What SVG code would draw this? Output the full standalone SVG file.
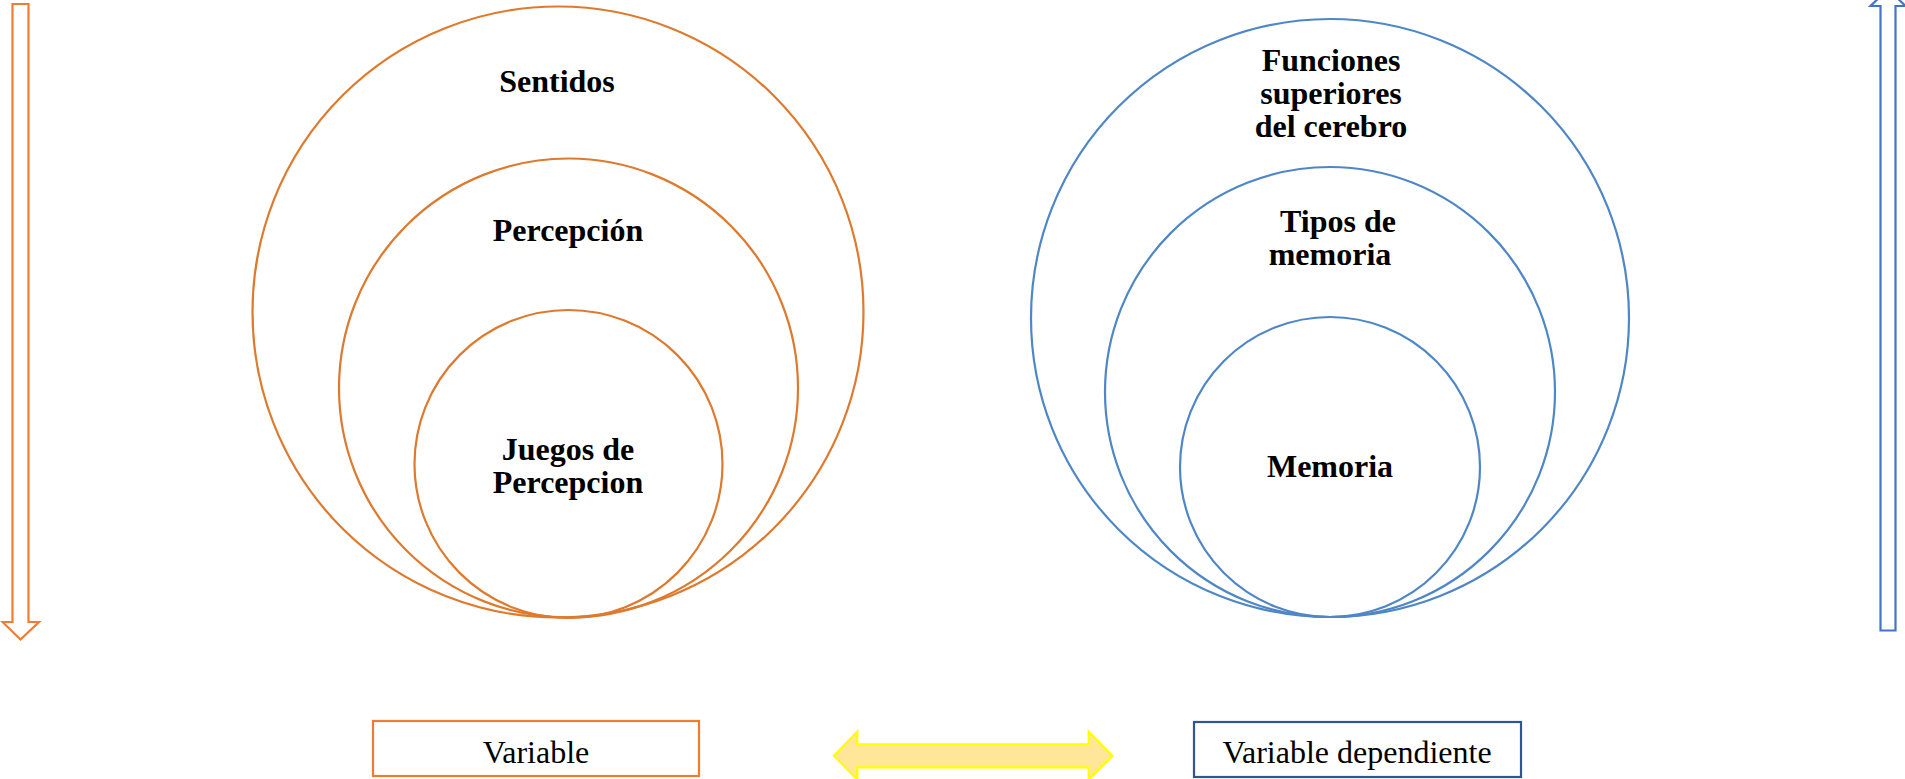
<svg xmlns="http://www.w3.org/2000/svg" width="1905" height="779" viewBox="0 0 1905 779">
  <style>
    .oc { fill: none; stroke: #DE7A2E; stroke-width: 2.2; }
    .bc { fill: none; stroke: #4F87C6; stroke-width: 2.2; }
    .lbl { font-family: "Liberation Serif", "Times New Roman", serif; font-weight: bold; font-size: 32px; fill: #000; text-anchor: middle; }
    .box-t { font-family: "Liberation Serif", "Times New Roman", serif; font-size: 32px; fill: #000; text-anchor: middle; }
  </style>
  <rect width="1905" height="779" fill="#fff"/>
  <g id="connectors">
    <path id="arrow-left" d="M12.5,4 H28.5 V622 H39 L20.5,639.5 L2.5,622 H12.5 Z" fill="#fff" stroke="#ED7D31" stroke-width="2.2"/>
    <path id="arrow-right" d="M1880.5,630.5 H1895.5 V6 H1905.5 L1888,-11 L1870.5,6 H1880.5 Z" fill="#fff" stroke="#4472C4" stroke-width="2.2"/>
    <path id="arrow-both" d="M834,755.7 L857.3,731.7 V744.3 H1088.7 V731.7 L1112.3,755.7 L1088.7,779.7 V767.3 H857.3 V779.7 Z" fill="#FFE699" stroke="#FFFF00" stroke-width="2.2"/>
  </g>
  <g id="node-sentidos">
    <circle class="oc" cx="558" cy="312" r="305.5"/>
    <text class="lbl" x="557" y="92">Sentidos</text>
  </g>
  <g id="node-percepcion">
    <circle class="oc" cx="568.5" cy="388" r="229.5"/>
    <text class="lbl" x="568" y="241">Percepción</text>
  </g>
  <g id="node-juegos">
    <circle class="oc" cx="568.5" cy="464" r="154"/>
    <text class="lbl" x="568" y="460">Juegos de</text>
    <text class="lbl" x="568" y="493">Percepcion</text>
  </g>
  <g id="node-funciones">
    <circle class="bc" cx="1330" cy="318" r="299"/>
    <text class="lbl" x="1331" y="71">Funciones</text>
    <text class="lbl" x="1331" y="104">superiores</text>
    <text class="lbl" x="1331" y="137">del cerebro</text>
  </g>
  <g id="node-tipos">
    <circle class="bc" cx="1330" cy="392" r="225"/>
    <text class="lbl" x="1338" y="232">Tipos de</text>
    <text class="lbl" x="1330" y="265">memoria</text>
  </g>
  <g id="node-memoria">
    <circle class="bc" cx="1330" cy="467" r="150"/>
    <text class="lbl" x="1330" y="477">Memoria</text>
  </g>
  <g id="node-variable">
    <rect x="373" y="721" width="326" height="55" fill="#fff" stroke="#ED7D31" stroke-width="2.2"/>
    <text class="box-t" x="536" y="763">Variable</text>
  </g>
  <g id="node-variable-dependiente">
    <rect x="1194" y="722" width="327" height="55" fill="#fff" stroke="#2F5597" stroke-width="2.2"/>
    <text class="box-t" x="1357" y="763">Variable dependiente</text>
  </g>
</svg>
